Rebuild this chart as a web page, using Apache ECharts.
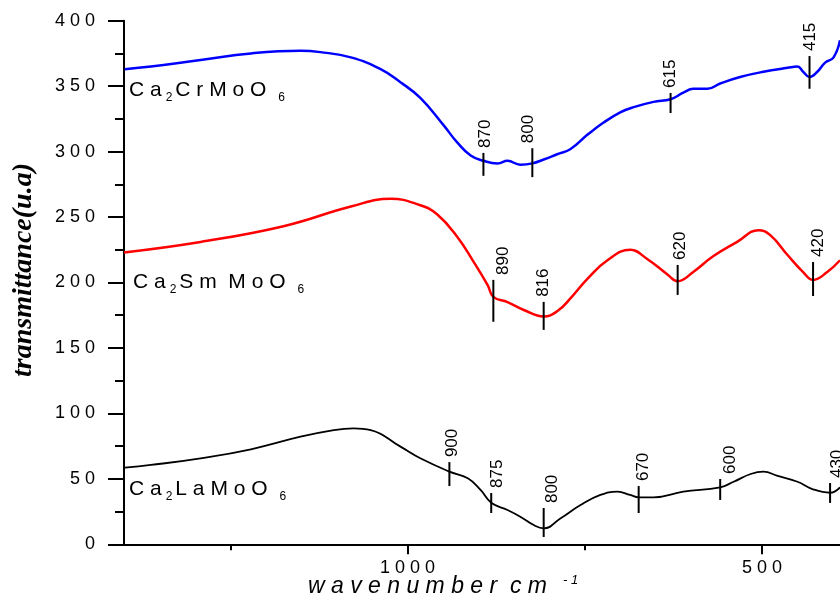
<!DOCTYPE html>
<html>
<head>
<meta charset="utf-8">
<script src="https://cdn.jsdelivr.net/npm/echarts@6/dist/echarts.min.js"></script>
<style>
  html, body { margin: 0; padding: 0; background: #fff; }
  #chart { width: 840px; height: 600px; }
</style>
</head>
<body>
<div id="chart"></div>
<script>
// FTIR spectra (wavenumber cm-1 -> transmittance u.a)
const crWn = [1399, 1362, 1292, 1221, 1151, 1123, 1080, 1038, 1010, 982, 949, 930, 911, 893, 873, 859, 841, 824, 808, 789, 770, 746, 724, 700, 681, 653, 629, 611, 597, 577, 559, 531, 498, 464, 450, 442, 433, 422, 411, 399, 390]
const crT = [363, 365, 370, 375, 377, 376, 372, 363, 353, 341, 320, 307, 297, 293, 291, 293, 290, 291, 294, 298, 302, 313, 322, 330, 334, 338, 340, 345, 348, 348, 352, 357, 361, 364, 365, 361, 357, 361, 368, 372, 385]

const smWn = [1400, 1292, 1175, 1080, 1024, 982, 958, 930, 907, 887, 879, 859, 836, 808, 789, 770, 746, 718, 686, 662, 633, 619, 597, 569, 535, 505, 488, 464, 442, 428, 408, 390]
const smT = [223, 231, 243, 258, 264, 259, 252, 235, 216, 198, 189, 185, 179, 174, 178, 188, 203, 217, 225, 218, 206, 201, 208, 220, 231, 240, 236, 221, 208, 202, 208, 217]

const laWn = [1399, 1362, 1292, 1221, 1151, 1104, 1076, 1052, 1010, 982, 941, 915, 897, 882, 859, 841, 822, 808, 784, 756, 728, 704, 686, 674, 653, 611, 559, 540, 516, 498, 478, 450, 428, 404, 390]
const laT = [58.5, 60.6, 65.7, 72.6, 82.2, 87.3, 88.6, 87.3, 74.6, 65.7, 55.5, 50.4, 41.5, 31.8, 26.2, 21.1, 14.7, 12.2, 19.9, 30, 37.7, 40.2, 37.7, 35.9, 35.9, 40.2, 43.5, 47.8, 53.7, 55.5, 52.2, 47.8, 42, 39.4, 43.5]

// band marks: [label, tick wavenumber, tick top, tick bottom, label wavenumber]
const crPeaks = [['870', 893, 299, 281.5, 890], ['800', 824, 302.6, 280.5, 829], ['615', 629, 344.8, 329.5, 629], ['415', 433, 373, 348, 432]]
const smPeaks = [['890', 879, 202, 170, 865], ['816', 808, 185.2, 163.8, 808], ['620', 619, 213.4, 190.5, 615], ['420', 428, 215.7, 189.7, 421]]
const laPeaks = [['900', 941, 62.8, 44.5, 937], ['875', 882, 39.2, 23.9, 873], ['800', 808, 27.7, 5.6, 796], ['670', 674, 44.5, 23.9, 667], ['600', 559, 49.9, 33.9, 545], ['430', 404, 46.8, 31.6, 394]]

const xLabelValues = [1000, 500]
const xMinorTicks = [1250, 750]

const sans = '"Liberation Sans", Arial, sans-serif'
const spaced = (v) => String(v).split('').join(' ')

function zip(xs, ys) {
  return xs.map((x, i) => [x, ys[i]])
}

function lineSeries(wn, t, color, width) {
  return {
    type: 'line',
    data: zip(wn, t),
    smooth: 0.45,
    showSymbol: false,
    silent: true,
    lineStyle: { color: color, width: width },
    z: 3,
  }
}

function peakSeries(peaks) {
  return {
    type: 'custom',
    data: peaks.map((p) => [p[1], p[2]]),
    silent: true,
    z: 4,
    renderItem(params, api) {
      const p = peaks[params.dataIndex]
      const top = api.coord([p[1], p[2]])
      const bot = api.coord([p[1], p[3]])
      const lab = api.coord([p[4], p[2]])
      return {
        type: 'group',
        children: [
          {
            type: 'line',
            shape: { x1: top[0], y1: top[1], x2: bot[0], y2: bot[1] },
            style: { stroke: '#000', lineWidth: 2 },
          },
          {
            type: 'text',
            x: lab[0],
            y: lab[1] - 5,
            rotation: Math.PI / 2,
            style: {
              text: p[0],
              fill: '#000',
              font: '17px ' + sans,
              align: 'left',
              verticalAlign: 'middle',
            },
          },
        ],
      }
    },
  }
}

function compoundLabel(left, top, parts) {
  return {
    type: 'text',
    left: left,
    top: top,
    style: {
      text: parts,
      rich: {
        m: { fontSize: 21, fontFamily: sans, fill: '#000', lineHeight: 16, verticalAlign: 'top' },
        s: { fontSize: 12, fontFamily: sans, fill: '#000', lineHeight: 12, verticalAlign: 'top', padding: [12, 3, 0, 4] },
        e: { fontSize: 12, fontFamily: sans, fill: '#000', lineHeight: 12, verticalAlign: 'top', padding: [12, 0, 0, 12] },
      },
    },
  }
}

const chart = echarts.init(document.getElementById('chart'))

const axisLineStyle = { color: '#000', width: 2 }

const option = {
  animation: false,
  backgroundColor: '#fff',
  grid: {
    left: 124,
    right: 0,
    top: 20.7,
    bottom: 55.7,
    containLabel: false,
    outerBoundsMode: 'none',
  },
  xAxis: [
    {
      type: 'value',
      inverse: true,
      min: 390,
      max: 1400,
      axisLine: { show: true, onZero: false, lineStyle: axisLineStyle },
      axisTick: { show: true, customValues: xLabelValues, length: 10, lineStyle: axisLineStyle },
      axisLabel: {
        customValues: xLabelValues,
        formatter: spaced,
        color: '#000',
        fontSize: 18,
        fontFamily: sans,
        margin: 15,
      },
      splitLine: { show: false },
    },
    {
      type: 'value',
      inverse: true,
      min: 390,
      max: 1400,
      position: 'bottom',
      axisLine: { show: false },
      axisTick: { show: true, customValues: xMinorTicks, length: 6, lineStyle: axisLineStyle },
      axisLabel: { show: false },
      splitLine: { show: false },
    },
  ],
  yAxis: {
    type: 'value',
    min: 0,
    max: 400,
    interval: 50,
    axisLine: { show: true, lineStyle: axisLineStyle },
    axisTick: { show: true, length: 16, lineStyle: axisLineStyle },
    minorTick: { show: true, splitNumber: 2, length: 9, lineStyle: axisLineStyle },
    axisLabel: {
      formatter: spaced,
      color: '#000',
      fontSize: 18,
      fontFamily: sans,
      margin: 29,
    },
    splitLine: { show: false },
    minorSplitLine: { show: false },
  },
  graphic: [
    {
      type: 'text',
      x: 24,
      y: 270,
      rotation: Math.PI / 2,
      style: {
        text: 'transmittance(u.a)',
        font: 'italic bold 28px "Liberation Serif", "Times New Roman", serif',
        fill: '#000',
        align: 'center',
        verticalAlign: 'middle',
      },
    },
    {
      type: 'text',
      x: 308,
      y: 598,
      style: {
        text: 'w a v e n u m b e r  c m',
        font: 'italic 23px ' + sans,
        fill: '#000',
        align: 'left',
        verticalAlign: 'bottom',
      },
    },
    {
      type: 'text',
      x: 563,
      y: 587,
      style: {
        text: '- 1',
        font: 'italic 13px ' + sans,
        fill: '#000',
        align: 'left',
        verticalAlign: 'bottom',
      },
    },
    compoundLabel(129, 80, '{m|C a}{s|2}{m|C r M o O}{e|6}'),
    compoundLabel(133, 272, '{m|C a}{s|2}{m|S m  M o O}{e|6}'),
    compoundLabel(129, 479, '{m|C a}{s|2}{m|L a M o O}{e|6}'),
  ],
  series: [
    lineSeries(crWn, crT, '#0000ff', 2.5),
    lineSeries(smWn, smT, '#ff0000', 2.5),
    lineSeries(laWn, laT, '#000000', 1.8),
    peakSeries(crPeaks),
    peakSeries(smPeaks),
    peakSeries(laPeaks),
  ],
}

chart.setOption(option)
</script>
</body>
</html>
